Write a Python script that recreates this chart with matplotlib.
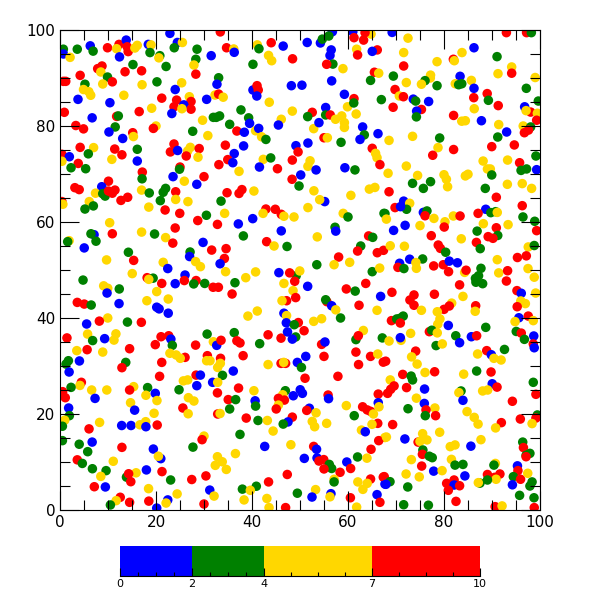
"""Coloured scatter of four value classes with a discrete colour bar below."""

import numpy as np
import matplotlib
matplotlib.use("Agg")
import matplotlib.pyplot as plt
from matplotlib.colors import BoundaryNorm, ListedColormap

levels = [0, 2, 4, 7, 10]
band_colors = ["#0000ff", "#008000", "#ffd700", "#ff0000"]
class_value = {"b": 1.0, "g": 3.0, "y": 5.5, "r": 8.5}
cbar_minor = [0.5, 1, 1.5, 2.5, 3, 3.5, 4.75, 5.5, 6.25, 7.75, 8.5, 9.25]

# upper left
x_a = [0.7,0.7,2.1,3.6,6.3,6.9,9.9,12.3,13.8,11.8,
       14.0,14.2,12.4,22.9,18.4,18.96,16.1,15.6,18.75,20.8,
       20.6,22.1,24.45,25.5,23.8,28.55,31.5,28.3,27.9,28.3,
       8.75,7.85,8.5,15.2,13.55,17.0,4.2,9.9,10.9,8.9,
       0.7,1.2,5.2,4.9,6.0,6.4,13.3,20.2,17.1,25.35,
       24.0,3.75,10.4,21.2,26.95,32.3,30.55,24.3,23.75,27.3,
       25.8,27.3,25.4,23.3,16.5,19.1,0.9,11.8,12.15,6.7,
       29.7,31.95,3.3,4.9,11.5,10.2,20.0,19.45,27.65,30.8,
       15.15,15.3,13.06,4.2,7.0,11.4,16.1,23.75,23.0,24.5,
       27.15,26.6,29.0,26.3,28.75,5.9,12.9,10.8,16.1,0.4,
       1.95,0.4,3.8,2.3,5.35,25.0,24.9,17.15,17.1,23.55,
       25.9,30.0,28.5,10.1]
y_a = [96.0,95.0,94.3,96.0,96.7,95.6,96.3,97.0,97.9,96.1,
       96.5,95.5,94.4,99.3,97.0,96.9,96.8,96.25,95.3,94.65,
       94.2,92.4,97.4,97.4,96.3,96.0,94.65,93.9,92.7,90.8,
       92.5,91.95,91.25,92.8,91.3,91.5,90.55,90.2,89.2,88.75,
       89.3,89.3,88.7,87.6,87.15,86.4,86.4,89.2,88.6,89.0,
       87.6,85.55,84.85,85.8,86.1,86.45,85.55,85.4,84.0,85.1,
       84.4,83.5,83.6,82.6,83.0,83.7,82.85,82.0,82.1,81.7,
       81.2,81.8,80.1,79.4,79.8,78.75,80.0,79.5,78.9,78.0,
       78.6,77.8,77.4,75.55,75.5,75.2,75.15,76.25,74.6,74.9,
       75.55,74.8,75.3,73.75,73.5,74.2,74.0,73.05,72.7,74.1,
       73.6,72.65,72.2,71.3,71.1,71.45,71.0,70.4,69.0,69.45,
       68.5,69.45,67.85,68.5]
c_a = ("gbygbgrrby" "rrbbbyyygg" "ygbyggbgyr" "rrygrrrgry" "rrgyyyygyy"
       "bbbryybrrr" "brybryrrgb" "ygrrgbyrgy" "rybryrgrrb" "yyrrygrybr"
       "byrggrgrgb" "yrbr")

# upper middle
x_b = [33.4,34.7,36.2,36.3,41.1,41.45,44.0,46.5,51.5,54.25,
       54.65,56.75,56.0,56.5,56.25,48.45,43.45,44.1,40.2,56.85,
       55.55,58.95,61.0,61.25,63.25,64.8,63.55,61.8,62.0,66.1,
       65.05,65.5,66.4,64.7,56.6,33.05,32.7,33.05,34.0,40.2,
       41.3,41.05,41.0,48.2,50.4,43.6,48.4,59.25,61.25,59.9,
       61.2,66.95,55.35,52.55,51.6,55.35,56.3,61.7,58.7,57.4,
       59.25,59.25,52.85,53.95,37.7,39.3,33.25,32.55,39.5,35.35,
       36.85,38.4,40.75,41.4,42.0,42.9,46.1,45.5,63.05,63.4,
       62.5,66.25,55.0,55.7,58.55,51.65,49.15,49.6,48.4,38.25,
       34.45,65.05,65.75,66.05,66.65,36.3,34.95,36.0,33.1,37.3,
       42.35,43.9,41.55,45.3,52.1,51.65,53.35,59.35,61.45,50.15,
       48.35]
y_b = [99.6,96.3,96.05,95.35,96.9,96.1,97.35,96.65,97.4,97.3,
       98.1,99.65,98.75,95.85,94.7,94.0,94.7,93.6,92.85,92.9,
       92.85,91.95,99.65,98.4,97.9,99.15,99.45,96.0,94.8,95.85,
       95.55,91.2,91.0,89.5,89.4,90.05,88.7,86.65,86.0,87.5,
       87.5,88.4,86.25,88.4,88.5,84.95,83.1,86.6,85.7,84.0,
       84.8,85.5,83.85,82.85,81.95,82.3,82.3,82.5,82.1,81.4,
       80.7,79.7,79.45,80.7,83.35,81.7,82.1,81.8,80.55,80.35,
       78.95,78.7,79.0,79.5,77.75,77.2,81.4,80.2,79.8,78.15,
       77.2,78.4,77.55,77.55,76.6,76.45,75.9,74.6,72.9,75.85,
       76.0,75.35,74.3,73.4,71.95,74.25,73.0,72.35,71.95,70.55,
       73.05,73.35,71.45,71.1,72.75,71.6,70.85,71.3,70.85,69.8,
       68.9]
c_b = ("rrybygrbbb" "gbgbbryygg" "rybrryryrr" "brygbgbryb" "rrbbbyybry"
       "ggbrggryyy" "yyybggggbg" "rbybygybbg" "bbrygbbrrb" "rryyrbrbry"
       "ygbryybbgb" "r")

# upper right
x_c = [69.2,72.5,93.0,97.2,98.2,86.25,83.75,81.95,82.15,91.05,
       78.55,71.6,71.6,69.45,72.15,77.2,77.15,76.05,75.3,78.55,
       83.35,82.35,83.05,83.7,85.7,86.25,94.1,94.1,91.25,99.0,
       97.15,89.0,86.2,89.25,91.3,86.3,69.8,70.7,71.55,73.6,
       74.1,76.8,69.4,75.3,74.3,74.25,82.0,83.7,84.45,87.8,
       91.4,96.8,99.65,98.05,97.1,99.45,99.3,96.5,98.05,97.6,
       96.75,93.05,91.2,68.55,73.45,79.1,78.75,82.0,77.65,89.95,
       94.65,99.15,99.3,88.15,93.25,95.75,96.05,97.2,89.05,89.65,
       89.95,72.15,68.35,74.5,80.0,80.5,84.45,85.0,73.45,77.2,
       93.2,96.3]
y_c = [99.5,98.3,99.45,99.45,99.45,96.3,95.3,93.9,93.6,94.45,
       93.4,95.3,92.5,90.4,89.05,90.6,90.0,89.45,88.7,88.4,
       90.35,88.8,88.6,88.8,89.5,87.85,92.3,91.0,90.9,90.1,
       87.85,86.75,85.9,85.35,84.25,83.6,87.6,86.25,86.1,85.6,
       85.2,85.1,83.9,83.45,83.1,81.9,82.2,81.0,81.1,81.1,
       80.3,84.0,85.2,82.9,83.2,82.65,81.2,80.0,79.8,79.15,
       78.6,78.75,77.7,77.0,77.85,77.5,75.5,75.1,73.9,75.7,
       76.05,73.75,70.9,72.7,72.9,72.35,70.75,71.05,71.05,71.05,
       69.8,71.65,70.15,69.7,69.85,68.9,69.6,69.95,68.05,68.4,
       67.85,68.0]
c_c = ("byrrgbyryg" "yyrgyyygyg" "byggybyryy" "grrgryryrb" "gbrrbgryyb"
       "ybgryyrygr" "rbgyygyrrr" "rgbyyrggyy" "gyyyyyyygg" "yy")

# middle left
x_d = [3.1,4.0,8.7,7.4,8.9,9.4,10.1,11.45,10.9,14.1,
       12.7,17.0,18.6,22.0,21.5,24.1,20.9,24.1,26.65,0.4,
       0.6,6.1,6.95,5.2,18.5,21.9,24.95,30.5,28.7,32.8,
       10.35,24.0,17.0,19.7,10.9,7.1,6.45,7.5,22.0,23.5,
       1.9,1.6,5.05,29.8,31.6,14.25,27.1,27.0,15.35,9.7,
       21.5,28.25,29.25,22.45,15.05,26.05,4.8,18.15,19.4,18.5,
       21.2,24.0,25.9,28.35,27.85,30.15,31.9,33.0,9.1,9.95,
       9.8,12.35,20.15,22.55,18.1,12.3,3.6,5.05,6.5,20.15,
       20.65,22.55,9.95,8.2,5.55,14.05,16.95,30.65,1.45,5.75,
       11.65,11.25,6.8,9.3,21.05,22.65,23.1,19.85,23.4,28.25,
       31.95,32.65,3.5,5.65,8.9,14.5]
y_d = [67.15,66.75,67.35,66.0,65.9,65.4,66.45,66.65,66.0,65.15,
       64.5,66.65,66.05,67.0,66.2,66.3,64.45,64.7,64.25,64.25,
       63.7,64.25,63.35,62.7,63.1,62.5,61.8,61.4,60.3,59.5,
       59.85,58.75,57.9,57.5,57.55,57.35,57.55,56.0,56.75,55.6,
       56.1,55.9,54.6,55.75,54.15,53.7,53.75,52.8,52.0,52.1,
       51.6,51.75,50.7,50.3,49.25,48.95,47.9,48.4,48.3,48.05,
       47.2,47.15,47.8,47.8,47.1,47.2,46.4,46.4,46.7,46.2,
       45.2,46.05,45.5,43.95,43.6,43.0,43.25,42.9,42.7,42.25,
       41.9,41.0,40.0,39.35,38.75,39.15,39.1,36.65,35.85,36.65,
       36.7,35.4,35.3,35.7,36.1,36.3,35.6,34.45,34.3,34.35,
       35.05,34.3,33.2,33.4,32.9,33.6]
c_d = ("rrbyggrrrr" "rygggrgyyr" "yyggyrrgrr" "yrygrbggyr" "ygbbrggbry"
       "yyybybgrgy" "rbrrggrryy" "bgyyybrrgb" "bbyrbgrgry" "yygbrrbrgr"
       "ybyryr")

# middle centre
x_e = [34.8,37.3,37.9,40.4,33.55,49.8,52.9,60.6,64.45,65.6,
       55.15,54.1,51.65,34.3,42.9,44.85,46.1,42.3,46.65,48.75,
       59.0,60.0,67.5,37.15,40.15,46.1,38.2,57.3,57.45,53.6,
       64.3,65.15,43.05,44.6,47.3,62.65,62.0,66.1,67.4,34.6,
       34.25,33.35,58.05,57.1,60.35,53.5,34.5,38.7,40.75,65.05,
       66.6,45.6,49.2,47.85,49.95,48.9,46.65,36.45,51.6,63.7,
       59.65,61.5,35.85,48.55,49.1,47.2,46.25,66.8,55.6,55.35,
       62.3,56.6,57.45,66.05,41.1,39.15,46.65,47.2,58.45,54.5,
       52.85,47.15,49.65,48.8,50.85,63.2,61.65,62.15,67.15,36.3,
       43.35,46.05,47.4,49.1,48.4,54.5,55.2,36.85,37.5,41.6,33.55]
y_e = [66.1,65.95,66.75,66.45,64.35,67.5,66.5,65.55,66.85,67.2,
       64.25,64.65,63.0,61.8,62.7,62.65,61.6,61.8,61.2,61.05,
       61.8,61.05,61.8,59.6,60.7,58.15,57.1,58.9,58.1,56.9,
       57.1,56.8,55.9,55.0,54.9,55.0,53.95,53.6,54.1,54.45,
       52.4,51.3,52.7,51.1,51.6,51.1,49.65,48.4,49.6,49.65,
       50.4,49.45,48.8,49.4,49.8,47.65,47.2,47.35,46.6,47.2,
       46.05,45.6,45.0,45.7,44.25,43.6,43.6,44.5,43.4,43.8,
       42.65,42.55,41.7,41.6,41.45,40.4,41.0,40.5,40.0,39.85,
       39.3,39.0,39.05,38.6,37.35,37.4,35.5,36.3,35.85,36.95,
       36.5,35.8,37.1,36.05,35.6,34.5,35.0,35.25,34.8,34.65,35.35]
c_e = ("rrryggyyyy" "byyyrrryyy" "yggbbbggby" "rgryggrrrr" "rbryygyyyg"
       "ybgryrygbr" "rgryrrybrg" "rbyyyybygy" "ybrgrygrgg" "rrbgbrbrrgr")

# middle right
x_f = [75.7,80.75,88.6,98.25,68.55,90.9,96.3,71.6,72.85,72.2,
       69.8,70.95,67.7,68.0,75.7,76.45,76.05,77.9,81.95,83.35,
       80.2,80.05,88.7,87.1,89.75,90.75,91.1,96.45,88.2,93.35,
       90.9,98.9,99.3,71.9,69.5,75.0,86.9,77.35,91.2,89.2,
       90.2,83.6,86.75,78.8,79.25,71.75,68.8,87.55,80.35,97.55,
       98.8,95.3,97.15,91.1,75.55,72.85,70.75,70.4,71.65,74.15,
       74.25,77.85,79.85,81.1,82.8,80.95,84.3,84.6,87.7,91.4,
       93.25,97.5,98.8,87.2,86.55,86.65,88.05,93.0,83.25,69.15,
       78.0,83.95,95.2,96.1,99.1,73.75,72.9,73.75,75.3,81.6,
       81.1,80.0,78.6,86.6,86.5,96.0,96.95,95.25,97.55,95.6,
       94.8,98.6,79.15,78.7,80.9,69.05,70.15,71.5,70.85,70.9,
       88.7,76.95,77.45,78.6,73.05,82.45,95.05,96.1,98.7,96.75,
       98.6,98.8,85.7,86.8,83.25,68.55,71.05,70.9,78.35,79.65,
       74.1,88.9,92.6]
y_f = [67.0,67.35,67.0,67.0,66.3,65.15,63.4,64.35,63.9,62.65,
       63.0,63.2,61.75,60.6,62.0,62.3,61.3,60.75,61.25,61.25,
       60.05,58.95,62.65,61.8,61.95,62.15,62.0,61.05,59.65,59.45,
       58.8,60.15,58.2,59.3,58.25,59.25,58.1,57.15,57.2,56.95,
       56.6,56.5,55.75,55.2,54.5,54.95,55.05,54.45,53.7,54.8,
       55.1,52.6,52.95,52.15,52.3,52.25,51.4,50.55,50.3,51.55,
       50.35,50.85,51.1,51.85,51.5,49.65,49.5,49.95,50.35,49.4,
       49.85,50.3,48.5,48.8,48.25,47.45,47.15,47.7,46.9,45.35,
       44.95,44.5,45.7,45.15,45.2,44.8,43.75,42.65,41.6,43.1,
       42.5,41.8,41.3,42.55,41.4,43.55,43.0,42.35,40.4,40.05,
       39.25,39.45,39.8,38.7,38.45,39.45,39.8,40.4,39.95,38.95,
       38.05,37.15,37.45,36.9,36.8,36.3,37.2,36.85,36.25,35.55,
       34.6,33.8,36.1,36.3,34.85,35.2,35.35,35.9,34.25,34.6,
       33.1,33.2,33.45]
c_f = ("gygyrrrbyg" "rbgybgryyr" "yrbrggygyy" "rgrbbygrgr" "ryrrryyggy"
       "grrygbbrgy" "yrrbbryrgy" "ryyggggrrr" "ryrbyrrryy" "rryryyyrrb"
       "yyyybrgggr" "grgyyggrbg" "rbbrbyybgy" "rrg")

# lower left
x_g = [22.9,24.2,26.05,25.05,30.7,30.55,31.25,1.75,1.25,4.05,
       13.7,12.9,21.2,20.75,1.9,4.45,4.15,25.7,26.6,28.35,
       29.25,28.5,2.3,0.55,1.1,6.6,7.3,9.75,15.35,14.5,
       18.25,17.9,19.85,20.2,24.8,31.8,26.75,27.9,14.7,15.55,
       25.6,26.7,19.6,1.8,1.95,0.98,0.5,8.25,6.05,12.85,
       14.8,16.65,17.85,17.9,20.25,0.5,4.0,6.7,5.77,12.9,
       19.45,21.0,20.5,30.0,29.6,27.7,32.8,3.6,4.65,11.1,
       32.35,6.75,9.6,8.5,15.85,13.85,14.3,14.75,18.0,21.25,
       23.05,27.45,30.4,7.15,9.45,18.45,31.2,32.1,24.4,22.45,
       22.1,18.5,12.55,11.7,14.5,10.5,20.15,30.0]
y_g = [32.65,32.3,31.8,31.6,32.15,31.1,31.1,31.1,30.4,31.05,
       30.75,29.65,30.75,27.85,28.75,26.6,25.95,26.9,27.1,28.1,
       28.1,25.9,25.55,24.65,23.4,25.0,23.25,25.0,25.7,25.0,
       25.5,23.9,24.3,22.8,25.05,26.6,23.4,22.7,22.35,20.8,
       21.25,20.05,20.15,21.25,19.65,18.7,17.45,18.25,16.9,17.6,
       17.6,17.75,18.4,17.35,17.7,14.45,13.7,14.15,12.15,13.05,
       12.7,10.7,11.2,15.4,14.65,13.1,11.1,10.45,9.7,10.15,
       9.3,8.6,8.2,7.0,7.75,6.85,7.55,5.9,8.35,8.0,
       6.25,6.35,7.1,4.85,4.8,4.45,4.15,2.9,3.35,2.1,
       1.45,1.85,2.65,1.95,1.6,1.05,0.4,1.25]
c_g = ("yyryryyggb" "grrrbryyyr" "bbgrrybyyr" "gybygbyyyb" "ryybgygyrb"
       "byybrggbgr" "bbyyrgyrgy" "yggyygrrbr" "grrrbybyyb" "yrryrgbr")

# lower middle
x_h = [33.45,38.15,55.0,51.2,61.65,64.7,66.2,62.2,67.35,43.35,
       46.05,47.0,46.6,49.45,50.3,33.4,32.85,36.1,33.85,51.05,
       57.9,32.85,37.2,40.4,32.8,55.85,55.95,66.3,46.95,46.4,
       45.5,46.75,48.6,50.05,50.5,35.05,36.6,40.65,40.75,45.5,
       45.05,35.35,66.3,66.45,59.65,63.05,64.0,64.7,65.3,51.95,
       51.4,53.35,61.3,32.85,33.35,38.8,41.25,43.2,48.4,47.5,
       46.5,52.55,53.05,55.55,66.2,65.0,62.8,63.6,44.4,37.5,
       67.7,66.4,48.1,42.65,52.85,53.45,64.8,36.55,50.9,53.55,
       62.0,63.95,54.95,53.95,56.1,56.6,55.0,59.75,60.55,33.8,
       34.65,58.35,47.35,64.7,67.35,57.1,57.1,62.05,64.0,67.7,
       63.1,43.45,38.0,40.9,39.65,53.25,49.45,52.5,56.45,56.25,
       66.05,60.5,38.35,43.1,66.65,43.55,47.0,61.8]
y_h = [31.6,32.15,32.0,32.0,32.9,32.0,32.5,30.3,30.8,30.3,
       30.55,30.55,30.75,30.75,29.7,30.55,29.7,28.95,28.05,27.45,
       27.85,26.6,25.4,24.85,24.4,23.95,23.2,24.15,24.85,24.0,
       23.25,22.9,23.8,25.05,24.3,23.0,23.0,22.75,21.65,21.85,
       21.05,21.05,22.35,21.5,21.75,21.5,20.85,20.55,20.0,21.2,
       20.75,20.25,19.65,20.0,20.1,19.15,18.65,18.65,19.35,18.35,
       17.9,18.45,17.35,18.05,18.05,17.85,16.65,16.3,16.45,15.75,
       15.1,14.45,13.6,13.25,13.25,12.65,12.65,11.75,10.75,10.85,
       11.05,10.8,10.5,10.2,9.5,8.65,8.55,10.0,8.65,10.05,
       8.45,7.85,7.4,6.45,6.85,6.4,5.85,5.85,5.55,5.4,
       4.3,5.85,4.35,4.95,4.1,4.25,3.5,2.7,3.4,2.75,
       3.2,2.55,2.1,2.4,1.6,0.5,0.5,0.6]
c_h = ("rrrbrryrry" "rrybgyybgr" "ryryrrbrgy" "rrbbbrgbgy" "rgbyyrrryb"
       "rygryrgyrb" "gyyyryybyg" "yrybrbrybb" "gyrrggrbry" "yrrrrygyyb"
       "yrggyygbby" "bryyryry")

# lower right
x_i = [87.0,89.85,90.4,91.9,73.25,67.85,74.4,76.05,78.05,71.4,
       73.15,73.45,68.8,72.2,69.6,68.9,68.25,75.95,84.1,86.8,
       89.8,90.05,91.05,98.6,88.05,89.1,83.55,83.1,99.15,83.95,
       74.25,94.25,75.9,72.5,78.1,76.25,76.1,78.25,84.8,86.3,
       87.1,91.95,90.75,95.9,99.45,99.15,98.35,69.3,79.1,75.55,
       68.0,71.85,74.6,75.0,76.45,87.7,96.4,96.55,75.6,75.5,
       76.95,77.55,81.3,82.3,85.6,97.1,97.9,97.1,73.2,81.55,
       75.35,82.3,83.95,90.7,90.4,95.3,95.4,77.85,79.6,72.1,
       74.85,84.35,67.55,68.75,67.9,89.05,91.65,90.55,90.85,94.45,
       95.95,97.45,87.5,87.15,89.05,94.25,98.35,97.9,72.45,80.55,
       82.1,82.1,83.25,80.9,95.75,98.75,82.5,71.6,76.75,90.65,
       92.1,98.8]
y_i = [32.5,32.35,31.6,31.25,31.9,31.0,30.4,28.65,28.8,28.25,
       27.9,27.1,27.1,25.5,25.85,25.15,24.3,25.2,28.3,28.95,
       28.75,26.3,25.6,26.6,24.8,25.0,24.8,24.45,24.1,22.85,
       23.3,22.65,22.2,21.1,21.25,20.85,19.65,19.65,20.5,19.3,
       17.9,18.2,17.1,18.95,19.8,19.15,18.0,17.8,16.2,15.9,
       15.2,14.8,14.15,14.3,14.6,14.65,14.15,13.0,12.5,11.6,
       11.2,10.9,13.2,13.55,13.3,11.4,11.8,11.1,10.5,10.55,
       9.15,9.35,9.5,9.7,9.35,9.2,8.2,8.1,8.2,7.5,
       6.9,7.1,6.95,5.9,5.35,7.4,7.5,6.8,6.4,6.95,
       6.4,7.65,5.6,5.7,6.25,5.25,5.85,5.0,4.8,5.55,
       6.25,5.2,5.05,4.1,3.05,2.55,1.8,1.1,1.0,0.7,
       0.85,0.5]
c_i = ("ybyyyryyrr" "ggyrrrrbyg" "rbrgyygyrb" "yrbgyrgryy" "yryrgryryy"
       "ybryyygrgr" "ggyybggryy" "rggygbrbyy" "ybrgbrrryg" "rygygbgggr"
       "rbrrggrggr" "yr")

x_parts = [x_a, x_b, x_c, x_d, x_e, x_f, x_g, x_h, x_i]
y_parts = [y_a, y_b, y_c, y_d, y_e, y_f, y_g, y_h, y_i]
c_parts = [c_a, c_b, c_c, c_d, c_e, c_f, c_g, c_h, c_i]
for name, xs, ys, cs in zip("abcdefghi", x_parts, y_parts, c_parts):
    if not len(xs) == len(ys) == len(cs):
        raise ValueError(f"region {name}: {len(xs)} {len(ys)} {len(cs)}")

x = np.concatenate(x_parts)
y = np.concatenate(y_parts)
z = np.array([class_value[k] for k in "".join(c_parts)])

cmap = ListedColormap(band_colors)
norm = BoundaryNorm(levels, cmap.N)

fig = plt.figure(figsize=(6, 6), dpi=100)
ax = fig.add_axes([0.1, 0.15, 0.8, 0.8])
pts = ax.scatter(x, y, c=z, s=47, cmap=cmap, norm=norm, linewidths=0)
ax.set_xlim(0, 100)
ax.set_ylim(0, 100)
ax.set_xticks(np.arange(0, 101, 20))
ax.set_yticks(np.arange(0, 101, 20))
ax.set_xticks(np.arange(0, 101, 5), minor=True)
ax.set_yticks(np.arange(0, 101, 5), minor=True)
ax.tick_params(which="major", direction="in", length=14, width=0.8,
               top=True, right=True, labelsize=11)
ax.tick_params(which="minor", direction="in", length=7, width=0.8,
               top=True, right=True)

cax = fig.add_axes([0.2, 0.04, 0.6, 0.05])
cb = fig.colorbar(pts, cax=cax, orientation="horizontal", spacing="proportional",
                  ticks=levels)
cb.outline.set_visible(False)
cax.spines["bottom"].set_visible(True)
cax.set_xticks(cbar_minor, minor=True)
cax.tick_params(which="major", direction="in", length=5.5, width=0.8,
                labelsize=8, pad=2)
cax.tick_params(which="minor", direction="in", length=3, width=0.8)

fig.savefig("out.png", dpi=100)
